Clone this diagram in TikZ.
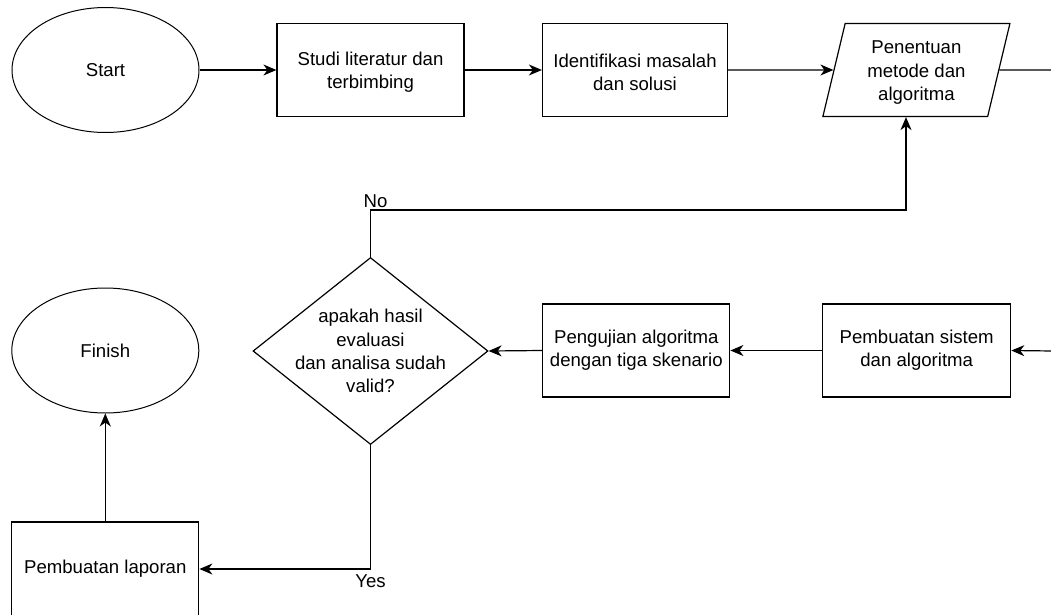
\documentclass[tikz,border=0pt]{standalone}
\usepackage{fontspec}
\setmainfont{Liberation Sans}
\usetikzlibrary{shapes.geometric,arrows.meta,calc}
\begin{document}
\begin{tikzpicture}[x=1pt,y=-1pt,
 every node/.style={font=\fontsize{18.6}{23.3}\selectfont, align=center},
 box/.style={draw, line width=1.2pt, rectangle, minimum width=187pt, minimum height=93pt, inner sep=0pt},
 oval/.style={draw, line width=1pt, ellipse, minimum width=187pt, minimum height=125pt, inner sep=0pt},
 dec/.style={draw, line width=1.2pt, diamond, minimum width=235pt, minimum height=187pt, inner sep=-30pt},
 para/.style={draw, line width=1.2pt, trapezium, trapezium left angle=72, trapezium right angle=108, minimum width=187pt, minimum height=93pt, trapezium stretches body, inner sep=0pt},
 conn/.style={line width=1.2pt},
 arr/.style={conn, -{Stealth[length=13pt,width=11pt,inset=4pt]}},
 lbl/.style={inner sep=2pt}
]
\useasboundingbox (0,0) rectangle (1051,615);
\clip (0,0) rectangle (1051,615);

\node[oval] (start) at (105.5,70) {Start};
\node[box] (studi) at (370.5,70) {\rule{0pt}{18pt}Studi literatur dan\\terbimbing};
\node[box, minimum width=185pt] (ident) at (635,70) {\rule{0pt}{18pt}Identifikasi masalah\\dan solusi};
\node[para] (param) at (916.4,70) {\rule{0pt}{18pt}Penentuan\\metode dan\\algoritma};
\node[dec] (diam) at (370.5,351) {apakah hasil\\evaluasi\\dan analisa sudah\\valid?};
\node[box] (uji) at (636.3,350.5) {Pengujian algoritma\\dengan tiga skenario};
\node[box, minimum width=188pt] (sistem) at (916.7,350.5) {Pembuatan sistem\\dan algoritma};
\node[oval] (finish) at (105.3,350.5) {Finish};
\node[box, minimum height=94pt] (lap) at (105.3,569) {Pembuatan laporan};

\coordinate (outR) at (1053,70);
\coordinate (inR) at (1053,351);
\coordinate (nob) at (906,210);

\draw[arr] (start.east) -- (studi.west);
\draw[arr] (studi.east) -- (ident.west);
\draw[arr] (ident.east) -- (param.west);
\draw[conn] (param.east) -- (outR);
\draw[arr] (inR) -- (sistem.east);
\draw[arr] (sistem.west) -- (uji.east);
\draw[arr] (uji.west) -- (diam.east);
\draw[arr] (diam.north) |- node[lbl, above, xshift=5pt]{No} (nob) -- (nob |- param.south);
\draw[arr] (diam.south) |- node[lbl, below, yshift=-3pt]{Yes} (lap.east);
\draw[arr] (lap.north) -- (finish.south);
\end{tikzpicture}
\end{document}
